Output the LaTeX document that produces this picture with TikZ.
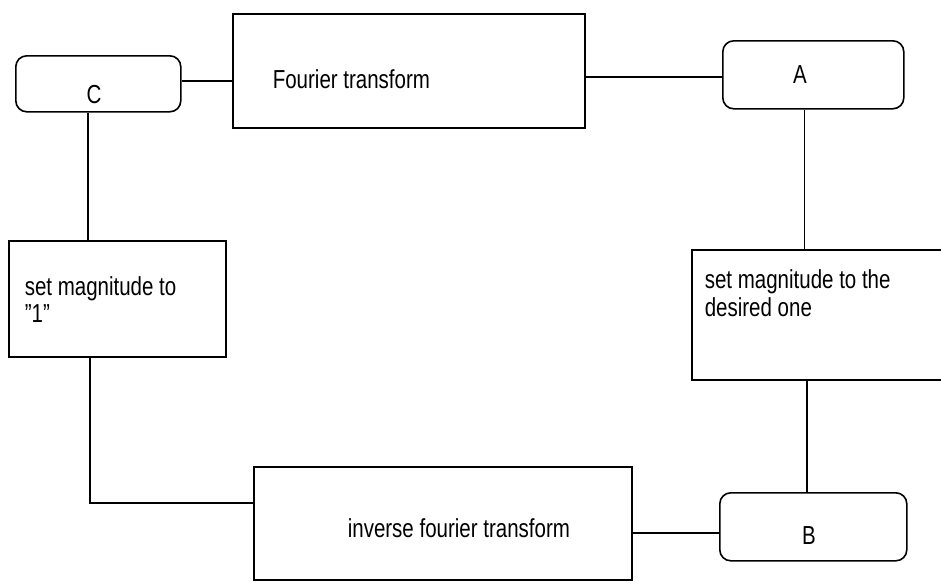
\documentclass[tikz,border=0pt]{standalone}
\usepackage{fontspec}
\usepackage{graphicx}
\setmainfont{Liberation Sans}
\newcommand\tallt[1]{\scalebox{1}[1.27]{#1}}
\begin{document}
\begin{tikzpicture}[x=1pt,y=-1pt,line width=1.6pt,
  box/.style={draw,rectangle,inner sep=0pt,anchor=north west},
  term/.style={draw,rectangle,rounded corners=11pt,inner sep=0pt,anchor=north west},
  lbl/.style={font=\fontsize{20.5}{26}\selectfont,inner sep=0pt,anchor=base west},
  letter/.style={font=\fontsize{20.5}{26}\selectfont,inner sep=0pt,anchor=base}]
\clip (0,0) rectangle (941,581);
\fill[white] (0,0) rectangle (941,581);
% boxes
\node[term,minimum width=165pt,minimum height=56pt] (C) at (15,55) {};
\node[box,minimum width=352pt,minimum height=114pt] (ft) at (232,13) {};
\node[term,minimum width=181pt,minimum height=68pt] (A) at (722,40) {};
\node[box,minimum width=320pt,minimum height=130pt] (des) at (691,249) {};
\node[term,minimum width=187pt,minimum height=68pt] (B) at (719,492) {};
\node[box,minimum width=378pt,minimum height=113pt] (inv) at (253,466) {};
\node[box,minimum width=217pt,minimum height=116pt] (s1) at (8,240) {};
% labels
\node[letter] (Ct) at (94,103) {\tallt{C}};
\node[letter] (At) at (800,83) {\tallt{A}};
\node[letter] (Bt) at (809,544) {\tallt{B}};
\node[lbl] (ftt) at (272,88) {\tallt{Fourier transform}};
\node[lbl] (dest1) at (704,288) {\tallt{set magnitude to the}};
\node[lbl] (dest2) at (704,316) {\tallt{desired one}};
\node[lbl] (invt) at (347,537) {\tallt{inverse fourier transform}};
\node[lbl] (s1t1) at (24,295) {\tallt{set magnitude to}};
\node[lbl] (s1t2) at (24,322) {\tallt{\char34 1\char34}};
% connectors
\coordinate (c1) at ([yshift=3pt]C.east);
\draw (c1) -- (c1 -| ft.west);
\coordinate (f1) at ([yshift=-6pt]ft.east);
\draw (f1) -- (f1 -| A.west);
\coordinate (a1) at ([xshift=-9pt]A.south);
\draw (a1) -- (a1 |- des.north);
\coordinate (b1) at ([xshift=-6.5pt]B.north);
\draw (b1) -- (b1 |- des.south);
\coordinate (b2) at ([yshift=-6pt]B.west);
\draw (b2) -- (b2 -| inv.east);
\coordinate (i1) at ([yshift=20.5pt]inv.west);
\coordinate (s1b) at ([xshift=-27.5pt]s1.south);
\draw (i1) -| (s1b);
\coordinate (c2) at ([xshift=-10.5pt]C.south);
\draw (c2) -- (c2 |- s1.north);
\end{tikzpicture}
\end{document}
